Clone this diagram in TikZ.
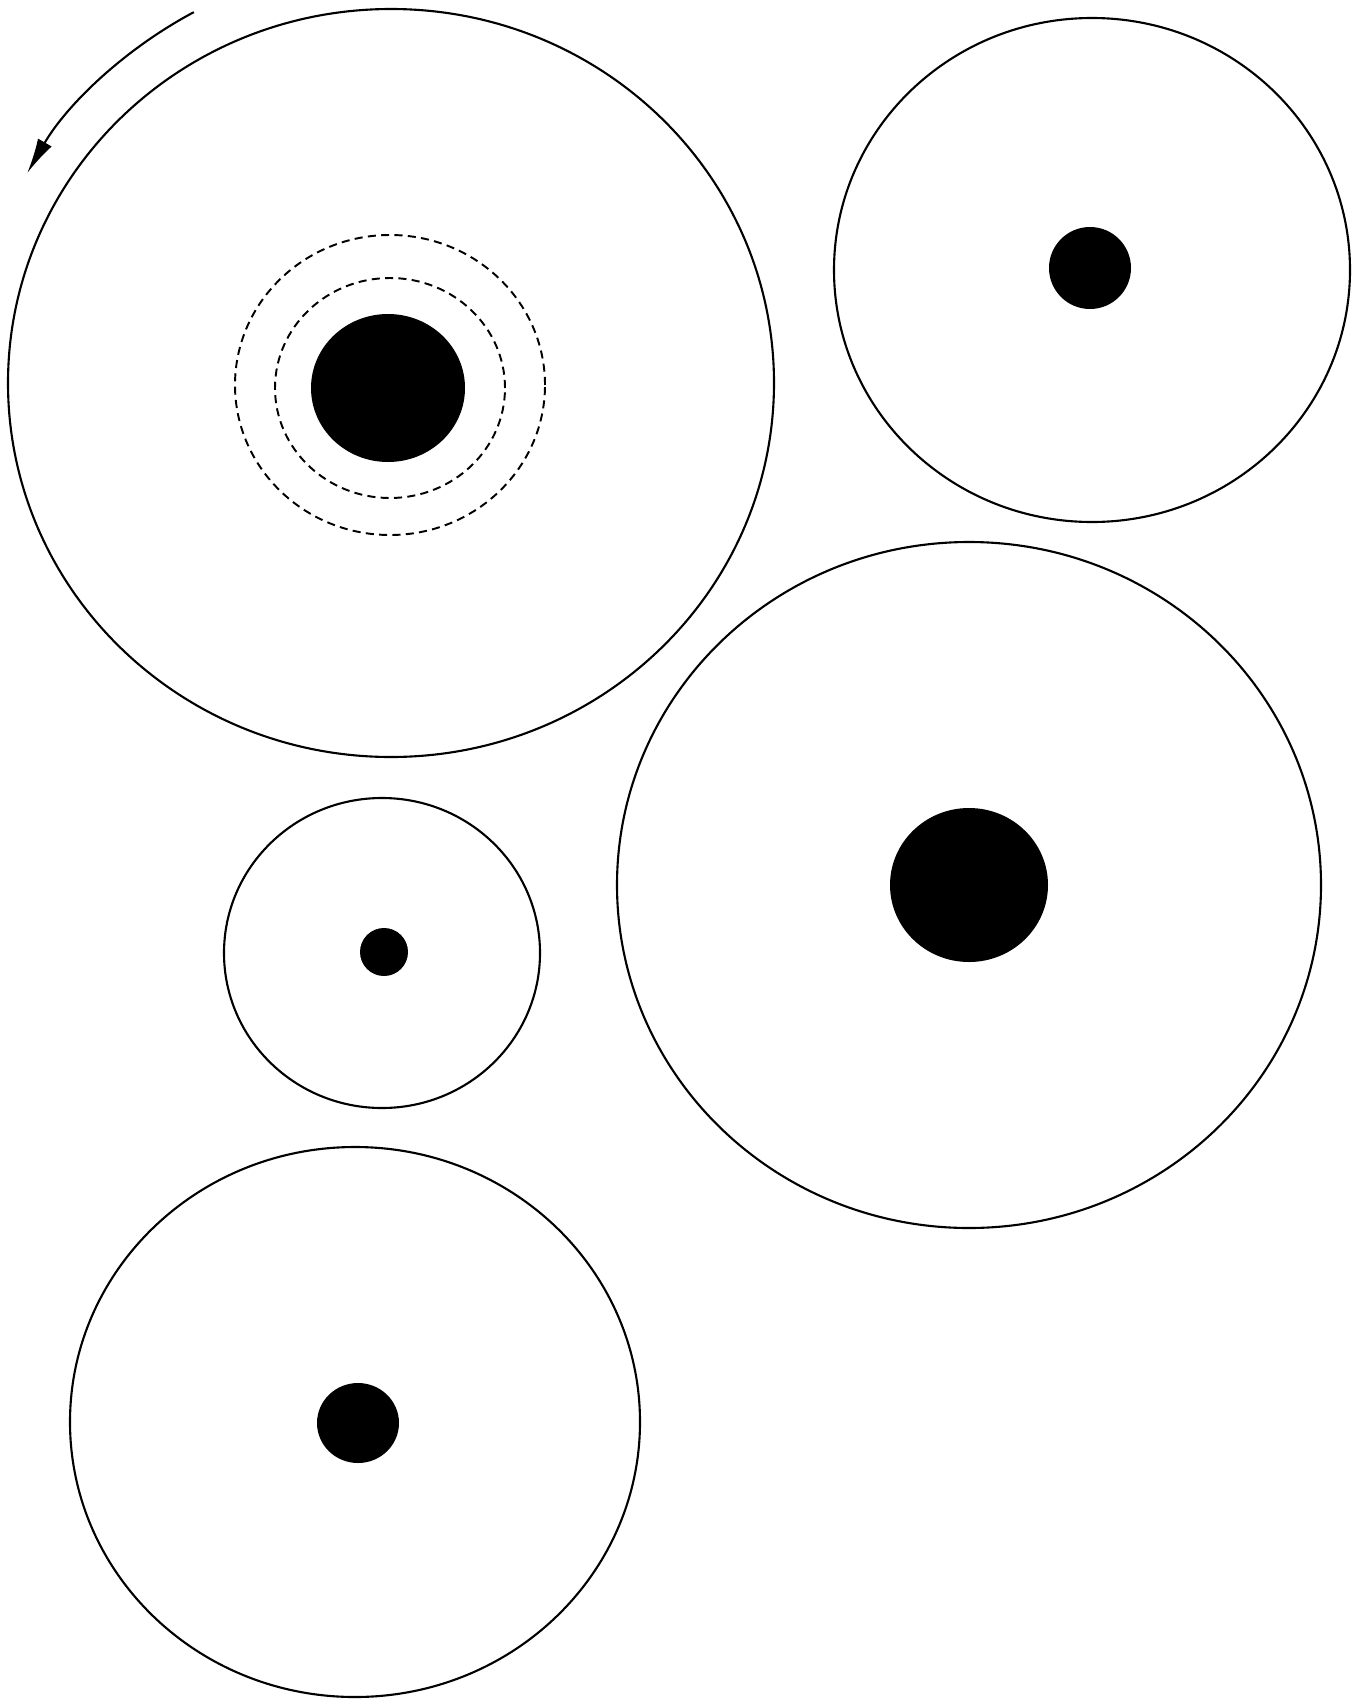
\documentclass[tikz,border=0pt]{standalone}
\usetikzlibrary{arrows.meta}

\begin{document}
\begin{tikzpicture}[
  wheel/.style   = {draw, line width=0.6pt},
  hub/.style     = {fill=black},
  orbit/.style   = {draw, line width=0.55pt, dash pattern=on 2.3pt off 1.5pt},
  turnarr/.style = {line width=0.6pt, -{Latex[length=10pt,width=4.5pt]}},
]
\useasboundingbox (0,0) rectangle (13.62,-17.00);

%%────────── centres ─────────────────────────────────────────
\coordinate (c1) at (3.91, -3.83);
\coordinate (c2) at (10.92,-2.70);
\coordinate (c3) at (9.69, -8.85);
\coordinate (c4) at (3.82, -9.53);
\coordinate (c5) at (3.55,-14.22);

%%────────── large wheel with rotation arrow ─────────────────
\draw[wheel] (c1) ellipse [x radius=3.83, y radius=3.74];
\fill[hub]   (3.88,-3.88) ellipse [x radius=0.77, y radius=0.74];
\draw[orbit] (3.90,-3.88) ellipse [x radius=1.15, y radius=1.10];
\draw[orbit] (3.90,-3.85) ellipse [x radius=1.55, y radius=1.50];
\draw[turnarr] (c1) ++(118:4.20) arc[start angle=118, end angle=150, radius=4.20];

%%────────── other wheels ────────────────────────────────────
\draw[wheel] (c2) ellipse [x radius=2.58, y radius=2.52];
\fill[hub]   (10.90,-2.68) circle (0.41);

\draw[wheel] (c3) ellipse [x radius=3.52, y radius=3.43];
\fill[hub]   (c3) ellipse [x radius=0.79, y radius=0.77];

\draw[wheel] (c4) ellipse [x radius=1.58, y radius=1.55];
\fill[hub]   (3.84,-9.52) circle (0.24);

\draw[wheel] (c5) ellipse [x radius=2.85, y radius=2.75];
\fill[hub]   (3.58,-14.23) ellipse [x radius=0.41, y radius=0.40];

\end{tikzpicture}
\end{document}
